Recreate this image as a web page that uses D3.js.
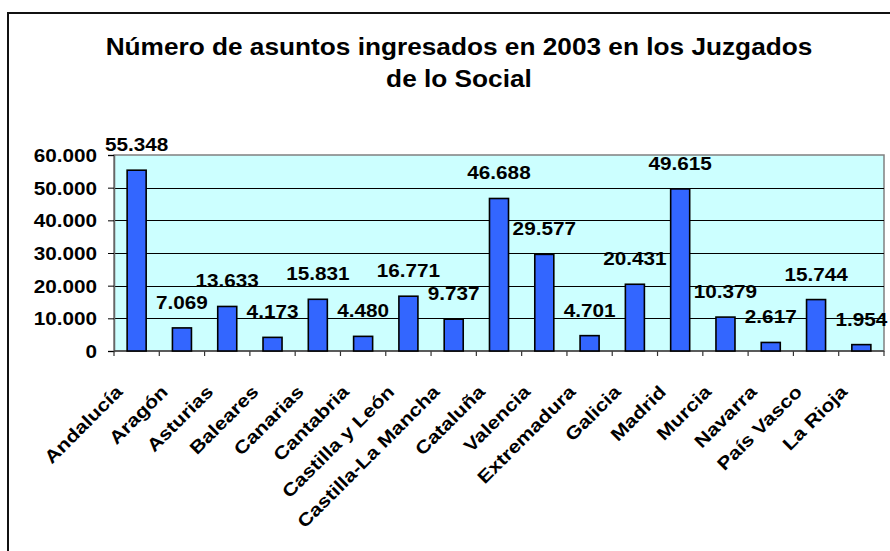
<!DOCTYPE html>
<html>
<head>
<meta charset="utf-8">
<script src="https://cdn.jsdelivr.net/npm/d3@7"></script>
<style>
  body { margin: 0; background: #fff; }
  text { font-family: "Liberation Sans", Arial, sans-serif; font-weight: bold; fill: #000; }
</style>
</head>
<body>
<div id="chart"></div>
<script>
var regions = ["Andalucía", "Aragón", "Asturias", "Baleares", "Canarias", "Cantabria",
    "Castilla y León", "Castilla-La Mancha", "Cataluña", "Valencia", "Extremadura",
    "Galicia", "Madrid", "Murcia", "Navarra", "País Vasco", "La Rioja"];
var asuntos = [55348, 7069, 13633, 4173, 15831, 4480, 16771, 9737, 46688, 29577,
    4701, 20431, 49615, 10379, 2617, 15744, 1954];
var yTicks = [0, 10000, 20000, 30000, 40000, 50000, 60000];
var titleLines = ["Número de asuntos ingresados en 2003 en los Juzgados", "de lo Social"];

var W = 890, H = 551;
var plot = {left: 114, right: 884, top: 155, bottom: 351};

var es = d3.formatLocale({decimal: ",", thousands: ".", grouping: [3], currency: ["", " €"]});
var fmt = es.format(",d");

var svg = d3.select("#chart").append("svg")
    .attr("width", W)
    .attr("height", H);

// wider glyphs, like the original rendering
function stretch(sel, k) {
    sel.each(function() {
        var len = this.getComputedTextLength();
        d3.select(this).attr("textLength", len * k).attr("lengthAdjust", "spacingAndGlyphs");
    });
}

// outer chart frame
svg.append("rect")
    .attr("x", 8).attr("y", 13)
    .attr("width", 900).attr("height", 560)
    .attr("fill", "none")
    .attr("stroke", "#111")
    .attr("stroke-width", 2);

var title = svg.append("g").attr("class", "title");
title.selectAll("text")
    .data(titleLines)
    .enter().append("text")
    .attr("x", 459)
    .attr("y", function(d, i) { return 55 + i * 32; })
    .attr("text-anchor", "middle")
    .style("font-size", "23px")
    .text(function(d) { return d; })
    .call(stretch, 1.14);

var x = d3.scaleBand()
    .domain(regions)
    .range([plot.left, plot.right])
    .paddingInner(0.58)
    .paddingOuter(0.29);

var y = d3.scaleLinear()
    .domain([0, 60000])
    .range([plot.bottom, plot.top]);

// plot background
svg.append("rect")
    .attr("x", plot.left).attr("y", plot.top)
    .attr("width", plot.right - plot.left)
    .attr("height", plot.bottom - plot.top)
    .attr("fill", "#ccffff")
    .attr("stroke", "#808080")
    .attr("stroke-width", 1.5);

// gridlines
svg.append("g")
    .selectAll("line")
    .data(yTicks.slice(1, -1))
    .enter().append("line")
    .attr("x1", plot.left).attr("x2", plot.right)
    .attr("y1", function(d) { return Math.round(y(d)) + 0.5; })
    .attr("y2", function(d) { return Math.round(y(d)) + 0.5; })
    .attr("stroke", "#000")
    .attr("stroke-width", 1);

// y axis
var yAxis = svg.append("g")
    .attr("transform", "translate(" + plot.left + ",0)")
    .call(d3.axisLeft(y).tickValues(yTicks).tickSize(6).tickPadding(11).tickFormat(fmt));
yAxis.select(".domain").attr("stroke", "#666").attr("stroke-width", 1.5);
yAxis.selectAll(".tick line").attr("stroke", "#000");
yAxis.selectAll(".tick text")
    .attr("dy", "0.36em")
    .style("font-size", "18px")
    .style("font-family", null)
    .call(stretch, 1.15);

// x axis ticks at category boundaries
var step = x.step();
svg.append("g")
    .selectAll("line")
    .data(d3.range(regions.length + 1))
    .enter().append("line")
    .attr("x1", function(i) { return plot.left + i * step; })
    .attr("x2", function(i) { return plot.left + i * step; })
    .attr("y1", plot.bottom)
    .attr("y2", plot.bottom + 5)
    .attr("stroke", "#333")
    .attr("stroke-width", 1.2);
svg.append("line")
    .attr("x1", plot.left).attr("x2", plot.right)
    .attr("y1", plot.bottom).attr("y2", plot.bottom)
    .attr("stroke", "#444")
    .attr("stroke-width", 1.5);

// bars
svg.append("g")
    .selectAll("rect")
    .data(asuntos)
    .enter().append("rect")
    .attr("x", function(d, i) { return x(regions[i]); })
    .attr("y", function(d) { return y(d); })
    .attr("width", x.bandwidth())
    .attr("height", function(d) { return plot.bottom - y(d); })
    .attr("fill", "#3366ff")
    .attr("stroke", "#000")
    .attr("stroke-width", 1.6);

// value labels
svg.append("g")
    .selectAll("text")
    .data(asuntos)
    .enter().append("text")
    .attr("x", function(d, i) { return x(regions[i]) + x.bandwidth() / 2; })
    .attr("y", function(d) { return y(d) - 19; })
    .attr("text-anchor", "middle")
    .style("font-size", "18px")
    .text(function(d) { return fmt(d); })
    .call(stretch, 1.15);

// category labels, rotated
svg.append("g")
    .selectAll("text")
    .data(regions)
    .enter().append("text")
    .attr("transform", function(d) {
        var cx = x(d) + x.bandwidth() / 2;
        return "translate(" + (cx - 13) + "," + 393 + ") rotate(-45)";
    })
    .attr("text-anchor", "end")
    .style("font-size", "18px")
    .text(function(d) { return d; })
    .call(stretch, 1.18);
</script>
</body>
</html>
